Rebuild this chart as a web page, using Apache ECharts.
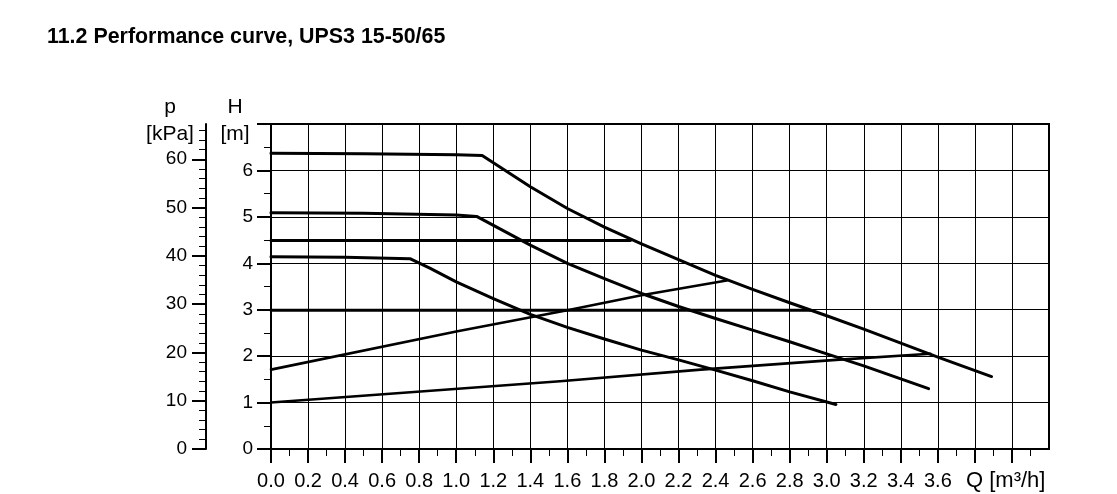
<!DOCTYPE html>
<html>
<head>
<meta charset="utf-8">
<script src="https://cdn.jsdelivr.net/npm/echarts@6/dist/echarts.min.js"></script>
<style>
html,body{margin:0;padding:0;background:#fff;}
#chart{width:1117px;height:494px;}
</style>
</head>
<body>
<div id="chart"></div>
<script>
// ---- text ----
const titleText = '11.2 Performance curve, UPS3 15-50/65';
const pName = 'p';
const pUnit = '[kPa]';
const hName = 'H';
const hUnit = '[m]';
const qName = 'Q [m³/h]';

// ---- tick labels / tick values ----
const xTickLabels = [0, 0.2, 0.4, 0.6, 0.8, 1.0, 1.2, 1.4, 1.6, 1.8, 2.0, 2.2, 2.4, 2.6, 2.8, 3.0, 3.2, 3.4, 3.6];
const xMajorTicks = [0, 0.2, 0.4, 0.6, 0.8, 1.0, 1.2, 1.4, 1.6, 1.8, 2.0, 2.2, 2.4, 2.6, 2.8, 3.0, 3.2, 3.4, 3.6, 3.8, 4.0];
const hTickLabels = [0, 1, 2, 3, 4, 5, 6];
const pTickLabels = [0, 10, 20, 30, 40, 50, 60];
const pMinorTicks = [2, 4, 6, 8, 12, 14, 16, 18, 22, 24, 26, 28, 32, 34, 36, 38, 42, 44, 46, 48, 52, 54, 56, 58, 62, 64, 66];

// ---- curves: Q [m3/h], H [m] ----
const q3 = [0, 0.5, 1.0, 1.14, 1.4, 1.6, 1.8, 2.0, 2.2, 2.4, 2.6, 2.8, 3.0, 3.2, 3.4, 3.6, 3.89];
const h3 = [6.37, 6.36, 6.34, 6.32, 5.65, 5.18, 4.78, 4.42, 4.08, 3.74, 3.44, 3.15, 2.87, 2.58, 2.28, 1.98, 1.56];

const q2 = [0, 0.5, 1.0, 1.11, 1.4, 1.6, 1.8, 2.0, 2.2, 2.4, 2.6, 2.8, 3.0, 3.2, 3.4, 3.55];
const h2 = [5.09, 5.08, 5.04, 5.01, 4.39, 4.00, 3.67, 3.35, 3.07, 2.81, 2.56, 2.31, 2.05, 1.79, 1.51, 1.30];

const q1 = [0, 0.4, 0.75, 0.86, 1.0, 1.2, 1.4, 1.6, 1.8, 2.0, 2.2, 2.4, 2.6, 2.8, 3.05];
const h1 = [4.14, 4.13, 4.10, 3.89, 3.60, 3.24, 2.90, 2.62, 2.37, 2.13, 1.92, 1.70, 1.47, 1.23, 0.96];

const qCP2 = [0, 1.94];
const hCP2 = [4.49, 4.49];
const qCP1 = [0, 2.91];
const hCP1 = [2.99, 2.99];

const qPP2 = [0, 1.0, 1.6, 2.0, 2.46];
const hPP2 = [1.71, 2.53, 2.99, 3.31, 3.63];
const qPP1 = [0, 1.56, 2.32, 3.05, 3.56];
const hPP1 = [1.0, 1.46, 1.71, 1.92, 2.05];

// ---- build ----
const FONT = '"Liberation Sans", Arial, Helvetica, sans-serif';
const zip = (a, b) => a.map((v, i) => [v, b[i]]);
const curves = [
  [q3, h3, 3], [q2, h2, 3], [q1, h1, 3],
  [qCP2, hCP2, 3], [qCP1, hCP1, 3],
  [qPP2, hPP2, 2.6], [qPP1, hPP1, 2.6]
];

const chart = echarts.init(document.getElementById('chart'), null, {renderer: 'canvas'});

const txt = (text, x, y, size, align, weight) => ({
  type: 'text', x: x, y: y, silent: true,
  style: {
    text: text, fill: '#000',
    font: (weight || 'normal') + ' ' + size + 'px ' + FONT,
    textAlign: align, align: align,
    textVerticalAlign: 'middle', verticalAlign: 'middle'
  }
});

chart.setOption({
  animation: false,
  backgroundColor: '#fff',
  title: {
    text: titleText, left: 47, top: 27, padding: 0,
    textStyle: {fontFamily: FONT, fontSize: 21.4, fontWeight: 'bold', color: '#000'}
  },
  grid: {
    left: 271, right: 68, top: 124, bottom: 45,
    show: true, borderColor: '#000', borderWidth: 2, backgroundColor: 'transparent',
    containLabel: false, outerBoundsMode: 'none'
  },
  xAxis: {
    type: 'value', min: 0, max: 4.2, interval: 0.2, position: 'bottom',
    axisLine: {show: true, onZero: false, lineStyle: {color: '#000', width: 2}},
    axisTick: {show: true, customValues: xMajorTicks, length: 14, lineStyle: {color: '#000', width: 2}},
    minorTick: {show: true, splitNumber: 2, length: 7, lineStyle: {color: '#000', width: 1}},
    axisLabel: {
      customValues: xTickLabels, formatter: v => Number(v).toFixed(1),
      margin: 22, fontSize: 20, fontFamily: FONT, color: '#000'
    },
    splitLine: {show: true, lineStyle: {color: '#000', width: 1}}
  },
  yAxis: [
    {
      type: 'value', min: 0, max: 7, interval: 1, position: 'left',
      axisLine: {show: true, onZero: false, lineStyle: {color: '#000', width: 2}},
      axisTick: {show: true, length: 14, lineStyle: {color: '#000', width: 2}},
      minorTick: {show: true, splitNumber: 2, length: 7, lineStyle: {color: '#000', width: 1}},
      axisLabel: {customValues: hTickLabels, margin: 18, fontSize: 19, fontFamily: FONT, color: '#000'},
      splitLine: {show: true, lineStyle: {color: '#000', width: 1}}
    },
    {
      type: 'value', min: 0, max: 67.3, interval: 10, position: 'left', offset: 65,
      axisLine: {show: true, onZero: false, lineStyle: {color: '#000', width: 2}},
      axisTick: {show: true, customValues: pTickLabels, length: 14, lineStyle: {color: '#000', width: 2}},
      axisLabel: {customValues: pTickLabels, margin: 19, fontSize: 19, fontFamily: FONT, color: '#000'},
      splitLine: {show: false}
    },
    {
      type: 'value', min: 0, max: 67.3, interval: 2, position: 'left', offset: 65,
      axisLine: {show: false, onZero: false},
      axisTick: {show: true, customValues: pMinorTicks, length: 7, lineStyle: {color: '#000', width: 1}},
      axisLabel: {show: false},
      splitLine: {show: false}
    }
  ],
  graphic: [
    txt(pName, 170, 107, 21, 'center'),
    txt(pUnit, 170, 134, 21, 'center'),
    txt(hName, 235, 107, 21, 'center'),
    txt(hUnit, 235, 134, 21, 'center'),
    txt(qName, 966, 481, 22, 'left')
  ],
  series: curves.map(c => ({
    type: 'line', xAxisIndex: 0, yAxisIndex: 0,
    data: zip(c[0], c[1]),
    showSymbol: false, symbol: 'none', smooth: false, silent: true,
    lineStyle: {color: '#000', width: c[2], cap: 'round', join: 'round'},
    z: 5
  }))
});
</script>
</body>
</html>
